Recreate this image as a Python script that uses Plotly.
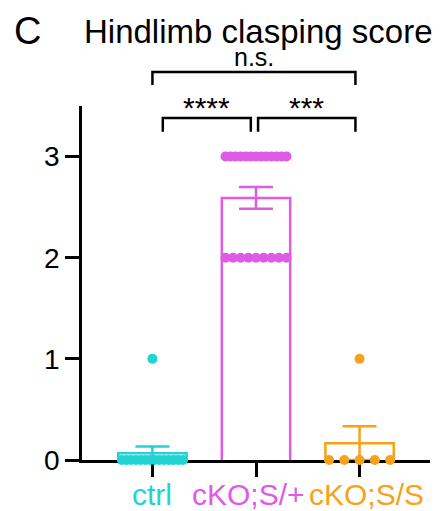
import numpy as np
import plotly.graph_objects as go

# ---- data (individual hindlimb clasping scores) ----
groups = ["ctrl", "cKO;S/+", "cKO;S/S"]
ctrl_scores = [0, 0, 0, 0, 0, 0, 0, 0, 0, 0, 0, 0, 0, 0, 1]
s_plus_scores = [3, 3, 3, 3, 3, 3, 3, 3, 3, 3, 3, 3, 3,
                 2, 2, 2, 2, 2, 2, 2, 2, 2]
s_s_scores = [0, 0, 0, 0, 0, 1]
y_ticks = [0, 1, 2, 3]
sig_labels = ["n.s.", "****", "***"]

# ---- style ----
colors = ["#20D3D5", "#DF5AE6", "#F7A21B"]
FONT = "Liberation Sans, Arial, sans-serif"
LW = 2.5
bar_width = 0.66
swarm_half = 0.295
bar_floor = -0.04  # keeps bar bottom edge hidden below the axis

all_scores = [ctrl_scores, s_plus_scores, s_s_scores]
xpos = np.arange(len(groups))
means = [float(np.mean(s)) for s in all_scores]
sems = [float(np.std(s, ddof=1) / np.sqrt(len(s))) for s in all_scores]

fig = go.Figure()

# open bars
fig.add_trace(go.Bar(
    x=xpos, y=[m - bar_floor for m in means], base=bar_floor,
    width=bar_width,
    marker=dict(color="rgba(0,0,0,0)", line=dict(color=colors, width=LW)),
    showlegend=False, hoverinfo="skip",
))

# error bars (mean +/- SEM)
for i in range(len(groups)):
    fig.add_trace(go.Scatter(
        x=[xpos[i]], y=[means[i]], mode="markers",
        marker=dict(size=1, opacity=0),
        error_y=dict(type="data", array=[sems[i]], color=colors[i],
                     thickness=LW, width=17),
        showlegend=False, hoverinfo="skip", cliponaxis=False,
    ))

# individual points, spread per value
for i, scores in enumerate(all_scores):
    xs, ys = [], []
    for v in sorted(set(scores), reverse=True):
        n = scores.count(v)
        offs = np.linspace(-swarm_half, swarm_half, n) if n > 1 else [0.0]
        xs += list(xpos[i] + np.asarray(offs))
        ys += [v] * n
    fig.add_trace(go.Scatter(
        x=xs, y=ys, mode="markers",
        marker=dict(size=10, color=colors[i], line=dict(width=0)),
        showlegend=False, cliponaxis=False, hoverinfo="skip",
    ))

# significance brackets (x in data units, y in paper units)
brackets = [
    (0.0, 1.96, 1.096, 1.059, sig_labels[0], 1.092),
    (0.10, 0.95, 0.966, 0.927, sig_labels[1], 0.944),
    (1.02, 1.96, 0.966, 0.927, sig_labels[2], 0.944),
]
shapes = []
annotations = []
for x0, x1, ytop, ytip, lab, ylab in brackets:
    shapes.append(dict(
        type="path", xref="x", yref="paper",
        path=f"M {x0},{ytip} L {x0},{ytop} L {x1},{ytop} L {x1},{ytip}",
        line=dict(color="black", width=LW),
    ))
    is_star = lab.startswith("*")
    annotations.append(dict(
        x=(x0 + x1) / 2, y=ylab, xref="x", yref="paper",
        text=lab, showarrow=False, yanchor="bottom",
        font=dict(family=FONT, size=30 if is_star else 25, color="black"),
    ))

# colored category labels
label_shift = [0, -8, 7]
for i, g in enumerate(groups):
    annotations.append(dict(
        x=xpos[i], y=0, xref="x", yref="paper", yanchor="top",
        yshift=-16, xshift=label_shift[i], text=g, showarrow=False,
        font=dict(family=FONT, size=30, color=colors[i]),
    ))

# title and panel letter
annotations.append(dict(
    x=0.506, y=1.153, xref="paper", yref="paper", yanchor="bottom",
    text="Hindlimb clasping score", showarrow=False,
    font=dict(family=FONT, size=33, color="black"),
))
annotations.append(dict(
    x=-0.20, y=1.148, xref="paper", yref="paper", yanchor="bottom",
    text="C", showarrow=False,
    font=dict(family=FONT, size=38, color="black"),
))

fig.update_layout(
    width=433, height=503,
    margin=dict(l=74, r=11, t=98, b=51),
    paper_bgcolor="white", plot_bgcolor="white",
    showlegend=False, shapes=shapes, annotations=annotations,
    font=dict(family=FONT, color="black"),
)
fig.update_xaxes(
    range=[-0.68, 2.68], tickvals=list(xpos), showticklabels=False,
    ticks="outside", ticklen=14, tickwidth=LW, tickcolor="black",
    showline=True, linecolor="black", linewidth=LW,
    showgrid=False, zeroline=False, layer="below traces",
)
fig.update_yaxes(
    range=[0, 3.5], tickvals=y_ticks, ticktext=[str(t) for t in y_ticks],
    ticks="outside", ticklen=14, tickwidth=LW, tickcolor="black",
    tickfont=dict(family=FONT, size=28, color="black"),
    showline=True, linecolor="black", linewidth=LW,
    showgrid=False, zeroline=False, layer="below traces",
)

fig.write_html("out.html")
